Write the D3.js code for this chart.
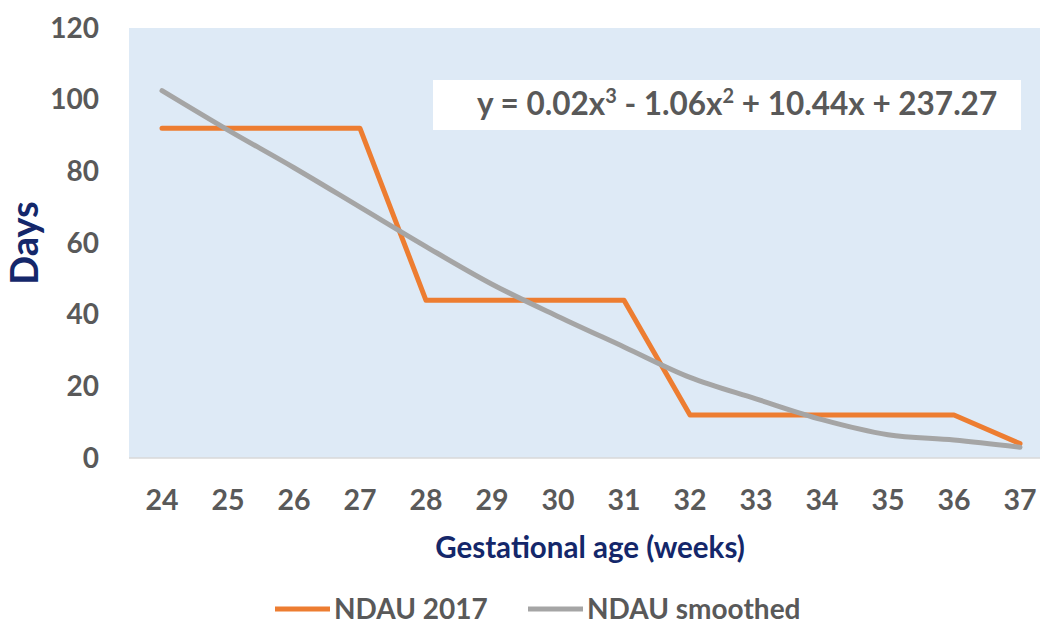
<!DOCTYPE html>
<html>
<head>
<meta charset="utf-8">
<script src="https://cdn.jsdelivr.net/npm/d3@7"></script>
<style>
  body { margin: 0; background: #fff; }
  text { font-family: Lato, "Open Sans", sans-serif; font-weight: 700; }
</style>
</head>
<body>
<div id="chart"></div>
<script>
// data
var weeks = [24, 25, 26, 27, 28, 29, 30, 31, 32, 33, 34, 35, 36, 37];
var ndau2017 = [92, 92, 92, 92, 44, 44, 44, 44, 12, 12, 12, 12, 12, 4];
var ndauSmoothed = [102.5, 91.5, 81, 70, 59, 48.5, 39.5, 31, 22.5, 16.5, 10.7, 6.5, 5, 3];
var yTicks = [0, 20, 40, 60, 80, 100, 120];

var width = 1040, height = 625;
var plotLeft = 129, plotTop = 28, plotBottom = 458, plotRight = 1053;

var svg = d3.select('#chart').append('svg')
    .attr('width', width)
    .attr('height', height);

var x = d3.scalePoint()
    .domain(weeks)
    .range([plotLeft, plotRight])
    .padding(0.5);

var y = d3.scaleLinear()
    .domain([0, 120])
    .range([plotBottom, plotTop]);

// plot background
svg.append('rect')
    .attr('x', plotLeft)
    .attr('y', plotTop)
    .attr('width', plotRight - plotLeft)
    .attr('height', plotBottom - plotTop)
    .attr('fill', '#deeaf6');

// bottom axis line
svg.append('line')
    .attr('x1', plotLeft).attr('x2', plotRight)
    .attr('y1', plotBottom).attr('y2', plotBottom)
    .attr('stroke', '#d9d9d9')
    .attr('stroke-width', 1.5);

// y tick labels
svg.append('g').selectAll('text')
    .data(yTicks)
    .enter().append('text')
    .attr('x', 99)
    .attr('y', d => y(d))
    .attr('dy', '0.35em')
    .attr('text-anchor', 'end')
    .attr('font-size', 28)
    .attr('fill', '#595959')
    .text(d => d);

// x tick labels
svg.append('g').selectAll('text')
    .data(weeks)
    .enter().append('text')
    .attr('x', d => x(d))
    .attr('y', 500)
    .attr('dy', '0.35em')
    .attr('text-anchor', 'middle')
    .attr('font-size', 28.5)
    .attr('fill', '#595959')
    .text(d => d);

// axis titles
svg.append('text')
    .attr('transform', 'translate(38,243)rotate(-90)')
    .attr('text-anchor', 'middle')
    .attr('font-size', 38)
    .attr('fill', '#14276a')
    .text('Days');

svg.append('text')
    .attr('x', 590)
    .attr('y', 558)
    .attr('text-anchor', 'middle')
    .attr('font-size', 29.5)
    .attr('fill', '#14276a')
    .text('Gestational age (weeks)');

var line = d3.line()
    .x((d, i) => x(weeks[i]))
    .y(d => y(d));

svg.append('path')
    .datum(ndau2017)
    .attr('d', line)
    .attr('fill', 'none')
    .attr('stroke', '#ed7d31')
    .attr('stroke-width', 5)
    .attr('stroke-linejoin', 'round')
    .attr('stroke-linecap', 'round');

svg.append('path')
    .datum(ndauSmoothed)
    .attr('d', line.curve(d3.curveMonotoneX))
    .attr('fill', 'none')
    .attr('stroke', '#a5a5a5')
    .attr('stroke-width', 5)
    .attr('stroke-linecap', 'round');

// trendline equation box
svg.append('rect')
    .attr('x', 433)
    .attr('y', 80)
    .attr('width', 588)
    .attr('height', 50)
    .attr('fill', '#fff');

var eq = svg.append('text')
    .attr('x', 477)
    .attr('y', 115)
    .attr('font-size', 31.5)
    .attr('fill', '#595959');
eq.append('tspan').text('y = 0.02x');
eq.append('tspan').attr('font-size', 20).attr('dy', -12).text('3');
eq.append('tspan').attr('dy', 12).text(' - 1.06x');
eq.append('tspan').attr('font-size', 20).attr('dy', -12).text('2');
eq.append('tspan').attr('dy', 12).text(' + 10.44x + 237.27');

// legend
var legend = [
  {name: 'NDAU 2017', color: '#ed7d31', x: 275},
  {name: 'NDAU smoothed', color: '#a5a5a5', x: 528}
];
var lg = svg.append('g').selectAll('g')
    .data(legend)
    .enter().append('g');
lg.append('line')
    .attr('x1', d => d.x).attr('x2', d => d.x + 55)
    .attr('y1', 609).attr('y2', 609)
    .attr('stroke', d => d.color)
    .attr('stroke-width', 5);
lg.append('text')
    .attr('x', d => d.x + 59)
    .attr('y', 609)
    .attr('dy', '0.35em')
    .attr('font-size', 28)
    .attr('fill', '#595959')
    .text(d => d.name);
</script>
</body>
</html>
